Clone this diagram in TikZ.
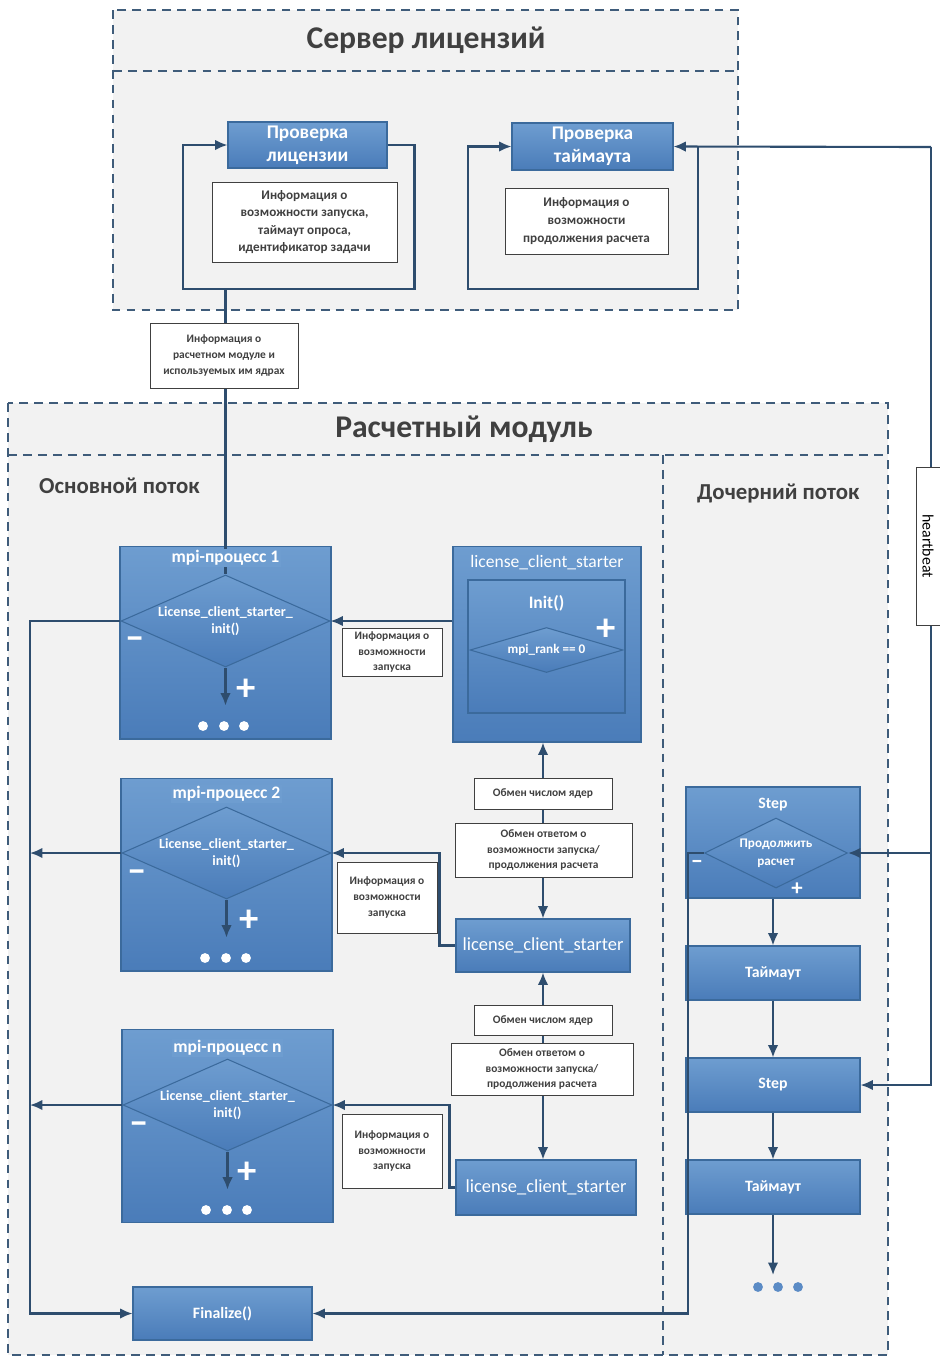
\documentclass[tikz,border=0pt]{standalone}
\usepackage{fontspec}
\setmainfont{Carlito}
\usetikzlibrary{arrows.meta,positioning,calc,shapes.geometric}
\definecolor{navy}{HTML}{2E4D6E}
\definecolor{boxtop}{HTML}{6E9DD0}
\definecolor{boxbot}{HTML}{4A7CB9}
\definecolor{boxline}{HTML}{3B6A9C}
\definecolor{ink}{HTML}{404040}
\definecolor{panecol}{HTML}{F2F2F2}
\definecolor{framecol}{HTML}{3F5C7A}
\definecolor{dotcol}{HTML}{5B8BC5}

\begin{document}
\begin{tikzpicture}[x=0.02cm, y=-0.02cm,
    container/.style={draw=framecol, line width=1.1pt, dash pattern=on 5pt off 3.5pt},
    pane/.style={fill=panecol},
    headline/.style={text=ink, font=\fontsize{18}{20}\selectfont\bfseries},
    section/.style={text=ink, font=\fontsize{13}{15}\selectfont\bfseries, anchor=west},
    bluebox/.style={draw=boxline, line width=0.6pt, top color=boxtop, bottom color=boxbot, inner sep=0pt, text=white, align=center},
    process/.style={bluebox, minimum width=4.22cm, minimum height=3.86cm},
    flowbox/.style={bluebox, minimum width=3.48cm, minimum height=1.08cm, font=\fontsize{9}{11}\selectfont\bfseries},
    lcsbox/.style={bluebox, font=\fontsize{10.5}{12}\selectfont},
    choice/.style={diamond, draw=boxline, line width=0.6pt, top color=boxtop, bottom color=boxbot, inner sep=0pt},
    proctitle/.style={text=white, fill=boxtop, inner sep=1pt, font=\fontsize{10}{12}\selectfont\bfseries},
    dtext/.style={text=white, align=center, font=\fontsize{8}{10}\selectfont\bfseries},
    sign/.style={text=white, inner sep=0pt, font=\fontsize{22}{22}\selectfont\bfseries},
    note/.style={draw=ink, line width=0.4pt, fill=white, align=center, text=ink, inner sep=0pt, font=\fontsize{6.5}{9}\selectfont\bfseries},
    wire/.style={draw=navy, line width=1.2pt},
    arrow/.style={wire, -{Latex[length=7pt,width=6pt]}},
    dblarrow/.style={wire, {Latex[length=7pt,width=6pt]}-{Latex[length=7pt,width=6pt]}}
]
\useasboundingbox (0,0) rectangle (940,1357);

% license server
\fill[pane] (113,10) rectangle (738,310);
\draw[container] (113,10) rectangle (738,310);
\draw[container] (113,71) -- (738,71);
\node[headline] (srvtitle) at (426,40) {Сервер лицензий};

% computing module
\fill[pane] (8,403) rectangle (888,1355);
\draw[container] (8,403) rectangle (888,1355);
\draw[container] (8,455) -- (888,455);
\draw[container] (663,455) -- (663,1355);
\node[headline] (modtitle) at (464,429) {Расчетный модуль};
\node[section] (mainflow) at (33,486) {Основной поток};
\node[section] (childflow) at (691,493) {Дочерний поток};

\node[bluebox, minimum width=3.18cm, minimum height=0.92cm, font=\fontsize{11}{13}\selectfont\bfseries] (chklic) at (307.5,145) {Проверка\\лицензии};
\node[bluebox, minimum width=3.22cm, minimum height=0.94cm, font=\fontsize{11}{13}\selectfont\bfseries] (chkto) at (592.5,146.5) {Проверка\\таймаута};

\node[process] (mpi1) at (225.5,642.5) {};
\node[choice, minimum width=4.18cm, minimum height=1.84cm] (d1) at (225.5,621) {};
\node[dtext] at (d1) {License\_client\_starter\_\\init()};

\node[process] (mpi2) at (226.5,874.5) {};
\node[choice, minimum width=4.18cm, minimum height=1.84cm] (d2) at (226.5,853) {};
\node[dtext] at (d2) {License\_client\_starter\_\\init()};

\node[process] (mpin) at (227.5,1126) {};
\node[choice, minimum width=4.18cm, minimum height=1.84cm] (dn) at (227.5,1105) {};
\node[dtext] at (dn) {License\_client\_starter\_\\init()};

\node[sign] at (135,643) {–};
\node[sign] at (246,690) {+};
\node[sign] at (137,876) {–};
\node[sign] at (249,921) {+};
\node[sign] at (139,1128) {–};
\node[sign] at (247,1173) {+};
\fill[white] (203,726) circle (2.8pt) (224,726) circle (2.8pt) (244,726) circle (2.8pt);
\fill[white] (205,958) circle (2.8pt) (226,958) circle (2.8pt) (246,958) circle (2.8pt);
\fill[white] (206,1210) circle (2.8pt) (227,1210) circle (2.8pt) (247,1210) circle (2.8pt);

\node[lcsbox, minimum width=3.76cm, minimum height=3.92cm] (lcsbig) at (547,644) {};
\node[lcsbox, minimum width=3.14cm, minimum height=2.66cm] (initbox) at (546.5,646.5) {};
\node[text=white, font=\fontsize{10}{12}\selectfont] at (547,563) {license\_client\_starter};
\node[text=white, font=\fontsize{10}{12}\selectfont\bfseries] at (546.5,603) {Init()};
\node[choice, minimum width=3.06cm, minimum height=0.9cm] (rank) at (546.5,650) {};
\node[dtext, font=\fontsize{7.5}{9}\selectfont\bfseries] at (rank) {mpi\_rank == 0};
\node[sign] at (606,630) {+};

\node[lcsbox, minimum width=3.48cm, minimum height=1.06cm] (lcs2) at (543,945.5) {license\_client\_starter};
\node[lcsbox, minimum width=3.6cm, minimum height=1.1cm] (lcs3) at (546,1187.5) {license\_client\_starter};

\node[flowbox, minimum width=3.58cm, minimum height=1.06cm] (fin) at (222.5,1313.5) {Finalize()};

\node[process, minimum width=3.48cm, minimum height=2.22cm] (step1) at (773,842.5) {};
\node[text=white, font=\fontsize{9}{11}\selectfont\bfseries] at (773,805) {Step};
\node[choice, minimum width=2.86cm, minimum height=1.4cm] (cont) at (776,853) {};
\node[dtext, font=\fontsize{7.5}{10}\selectfont\bfseries] at (cont) {Продолжить\\расчет};
\node[sign, font=\fontsize{14}{14}\selectfont\bfseries] at (697,864) {–};
\node[sign, font=\fontsize{13}{13}\selectfont\bfseries] at (797,889) {+};
\node[flowbox] (to1) at (773,973) {Таймаут};
\node[flowbox] (step2) at (773,1085) {Step};
\node[flowbox] (to2) at (773,1187) {Таймаут};
\fill[dotcol] (758,1287) circle (2.8pt) (778,1287) circle (2.8pt) (798,1287) circle (2.8pt);

% connectors
\coordinate (lictap) at (225.5,289);
\coordinate (toloop) at (698,147);
\coordinate (hbtop) at (931,147);
\coordinate (hbmid) at (931,853);
\coordinate (busB) at (30,1313.5);
\coordinate (childB) at (688,1313.5);
\coordinate (dots) at (773,1275);

\draw[arrow] (chklic.east) -- ++(27,0) |- (183,289) |- (chklic.west);
\draw[wire] (lictap) -- (d1.north);
\draw[arrow] (hbtop) -- (chkto.east);
\draw[arrow] (toloop) |- (468,289) |- (chkto.west);
\draw[arrow] (hbtop) |- (step2.east);
\draw[arrow] (hbmid) -- (cont.east);

\draw[arrow] (lcsbig.west |- d1.east) -- (d1.east);
\draw[arrow] (lcs2.west) -- ++(-16,0) |- (d2.east);
\draw[arrow] (lcs3.west) -- ++(-6,0) |- (dn.east);
\draw[dblarrow] (lcs2.north |- lcsbig.south) -- (lcs2.north);
\draw[dblarrow] (lcs2.south) -- (lcs2.south |- lcs3.north);

\draw[arrow] (d1.south) -- ++(0,38);
\draw[arrow] (d2.south) -- ++(0,38);
\draw[arrow] (dn.south) -- ++(0,38);

\draw[arrow] (d1.west) -| (busB) -- (fin.west);
\draw[arrow] (d2.west) -- (d2.west -| busB);
\draw[arrow] (dn.west) -- (dn.west -| busB);
\draw[arrow] (cont.west) -| (childB) -- (fin.east);

\draw[arrow] (step1.south) -- (to1.north);
\draw[arrow] (to1.south) -- (step2.north);
\draw[arrow] (step2.south) -- (to2.north);
\draw[arrow] (to2.south) -- (dots);

% labels
\node[proctitle] at (225.5,558) {mpi-процесс 1};
\node[proctitle] at (226.5,794) {mpi-процесс 2};
\node[proctitle] at (227.5,1048) {mpi-процесс n};

\node[note, minimum width=3.7cm, minimum height=1.6cm, font=\fontsize{7.5}{9.9}\selectfont\bfseries] (infolic) at (304.5,222) {Информация о\\возможности запуска,\\таймаут опроса,\\идентификатор задачи};
\node[note, minimum width=3.26cm, minimum height=1.32cm, font=\fontsize{7.5}{10}\selectfont\bfseries] (infoto) at (586.5,221) {Информация о\\возможности\\продолжения расчета};
\node[note, minimum width=2.96cm, minimum height=1.3cm] (infomod) at (224,355.5) {Информация о\\расчетном модуле и\\используемых им ядрах};
\node[note, minimum width=2.0cm, minimum height=0.96cm] (infost1) at (392,652) {Информация о\\возможности\\запуска};
\node[note, minimum width=2.0cm, minimum height=1.42cm] (infost2) at (387,897.5) {Информация о\\возможности\\запуска};
\node[note, minimum width=2.0cm, minimum height=1.48cm] (infost3) at (392,1151) {Информация о\\возможности\\запуска};
\node[note, minimum width=2.76cm, minimum height=0.62cm] (cores1) at (543,793.5) {Обмен числом ядер};
\node[note, minimum width=3.54cm, minimum height=1.08cm] (answer1) at (543.5,850) {Обмен ответом о\\возможности запуска/\\продолжения расчета};
\node[note, minimum width=2.76cm, minimum height=0.6cm] (cores2) at (543,1020) {Обмен числом ядер};
\node[note, minimum width=3.64cm, minimum height=1.04cm] (answer2) at (542,1069) {Обмен ответом о\\возможности запуска/\\продолжения расчета};
\node[note, rotate=-90, minimum width=3.16cm, minimum height=0.48cm, font=\fontsize{9}{11}\selectfont, text=black] (hb) at (928,546) {heartbeat};

\end{tikzpicture}
\end{document}
